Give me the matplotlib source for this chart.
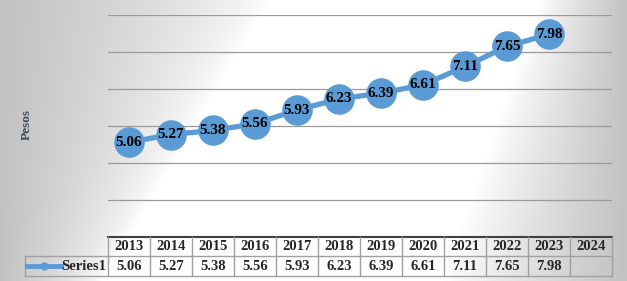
import numpy as np
import matplotlib
matplotlib.use("Agg")
import matplotlib.pyplot as plt
from matplotlib.lines import Line2D

years = ["2013", "2014", "2015", "2016", "2017", "2018", "2019", "2020",
         "2021", "2022", "2023", "2024"]
values = [5.06, 5.27, 5.38, 5.56, 5.93, 6.23, 6.39, 6.61, 7.11, 7.65, 7.98]
series_name = "Series1"
y_label = "Pesos"

W, H = 627, 281
fig = plt.figure(figsize=(W / 100, H / 100), dpi=100)

# background gradient
bg = fig.add_axes([0, 0, 1, 1], zorder=-10)
xx, yy = np.meshgrid(np.arange(W) + 0.5, np.arange(H) + 0.5)
xw = 270 - 0.6 * yy
g_left = np.clip(1 - xx / xw, 0, 1) ** 0.7
xr = 540 - 0.35 * yy
g_right = np.clip((xx - xr) / (W - xr), 0, 1) ** 0.9
g = np.maximum(g_left, g_right)
shade = 1 - 0.24 * g
img = np.dstack([shade, shade, shade])
bg.imshow(img, extent=[0, W, H, 0], aspect="auto", interpolation="bilinear")
bg.set_axis_off()

left, right = 108 / W, 612 / W
bottom, top = (H - 237) / H, (H - 15) / H
ax = fig.add_axes([left, bottom, right - left, top - bottom])
ax.patch.set_alpha(0)
n = len(years)
ax.set_xlim(-0.5, n - 0.5)
ax.set_ylim(2.5, 8.5)
ax.set_yticks(np.arange(3.5, 8.6, 1.0))
ax.yaxis.grid(True, color="#9a9a9a", linewidth=0.9)
ax.tick_params(left=False, bottom=False, labelleft=False, labelbottom=False)
for s in ["left", "right", "top"]:
    ax.spines[s].set_visible(False)
ax.spines["bottom"].set_color("#404040")
ax.spines["bottom"].set_linewidth(1.5)

xs = np.arange(len(values))
ax.plot(xs, values, color="#5B9BD5", linewidth=3.8, marker="o",
        markersize=21, markerfacecolor="#5B9BD5", markeredgecolor="#5B9BD5",
        zorder=3, clip_on=False)
for x, v in zip(xs, values):
    ax.text(x, v, f"{v:.2f}", ha="center", va="center", fontsize=11,
            fontweight="bold", family="Liberation Serif", color="black",
            zorder=4)

fig.text(27 / W, 1 - 124 / H, y_label, rotation=90, ha="center", va="center",
         fontsize=9.5, fontweight="bold", family="Liberation Serif",
         color="#3b4a5a")

# data table
def fy(py):
    return 1 - py / H

def fx(px):
    return px / W

col_w = (612 - 108) / n
row1_top, row1_bot, row2_bot = 237, 256, 276
cell_col = "#a0a0a0"
lw = 1.0
fig.add_artist(Line2D([fx(108), fx(612)], [fy(row1_bot), fy(row1_bot)], color=cell_col, lw=lw))
fig.add_artist(Line2D([fx(25), fx(108)], [fy(row1_bot), fy(row1_bot)], color=cell_col, lw=lw))
fig.add_artist(Line2D([fx(25), fx(612)], [fy(row2_bot), fy(row2_bot)], color=cell_col, lw=lw))
for i in range(n + 1):
    px = 108 + col_w * i
    fig.add_artist(Line2D([fx(px), fx(px)], [fy(row1_top), fy(row2_bot)], color=cell_col, lw=lw))
fig.add_artist(Line2D([fx(25), fx(25)], [fy(row1_bot), fy(row2_bot)], color=cell_col, lw=lw))

for i, yr in enumerate(years):
    cx = 108 + col_w * (i + 0.5)
    fig.text(fx(cx), fy((row1_top + row1_bot) / 2 + 0.5), yr, ha="center", va="center",
             fontsize=10.5, fontweight="bold", family="Liberation Serif", color="#262626")
for i, v in enumerate(values):
    cx = 108 + col_w * (i + 0.5)
    fig.text(fx(cx), fy((row1_bot + row2_bot) / 2 + 0.5), f"{v:.2f}", ha="center", va="center",
             fontsize=10.5, fontweight="bold", family="Liberation Serif", color="#262626")

# legend key
ly = fy((row1_bot + row2_bot) / 2)
fig.add_artist(Line2D([fx(27), fx(61)], [ly, ly], color="#5B9BD5", lw=3.5))
fig.add_artist(Line2D([fx(44)], [ly], color="#5B9BD5", marker="o", markersize=5))
fig.text(fx(106), fy((row1_bot + row2_bot) / 2 + 0.5), series_name, ha="right", va="center",
         fontsize=10.5, fontweight="bold", family="Liberation Serif", color="#262626")

fig.savefig("out.png", dpi=100)
